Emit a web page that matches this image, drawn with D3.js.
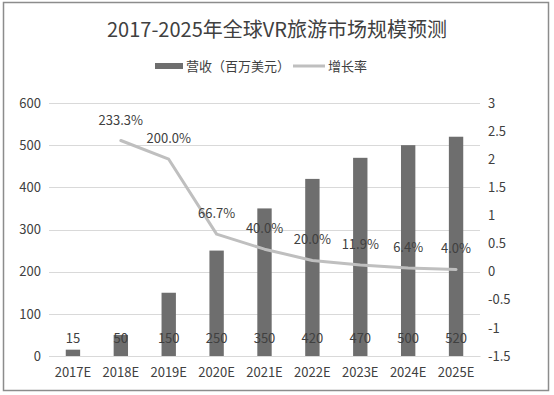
<!DOCTYPE html>
<html><head><meta charset="utf-8">
<script src="https://cdn.jsdelivr.net/npm/d3@7"></script>
<style>body{margin:0;background:#fff}svg{display:block}text{font-family:"Noto Sans CJK SC","Noto Sans",sans-serif;}</style>
</head><body><svg id="c" width="554" height="395"></svg>
<script>
const categories = ["2017E","2018E","2019E","2020E","2021E","2022E","2023E","2024E","2025E"];
const revenue = [15,50,150,250,350,420,470,500,520];
const growth = [null,2.333,2.0,0.667,0.4,0.2,0.119,0.064,0.04];
const growthLabels = [null,"233.3%","200.0%","66.7%","40.0%","20.0%","11.9%","6.4%","4.0%"];
const leftTicks = [0,100,200,300,400,500,600];
const rightTicks = [-1.5,-1,-0.5,0,0.5,1,1.5,2,2.5,3];
const title = "2017-2025年全球VR旅游市场规模预测";
const legendNames = ["营收（百万美元）","增长率"];

const svg = d3.select("#c");
const txt = "#404040";
svg.append("rect").attr("x",3.5).attr("y",2.5).attr("width",545).attr("height",388)
  .attr("fill","#fff").attr("stroke","#8c8c8c").attr("stroke-width",1.5);

const x = d3.scaleBand().domain(categories).range([49,480]).paddingInner(0).paddingOuter(0);
const yL = d3.scaleLinear().domain([0,600]).range([356,103]);
const yR = d3.scaleLinear().domain([-1.5,3]).range([356,103]);
const cx = c => x(c)+x.bandwidth()/2;

// grid
svg.append("g").selectAll("line").data(leftTicks).join("line")
  .attr("x1",49).attr("x2",480).attr("y1",d=>Math.round(yL(d))+0.5).attr("y2",d=>Math.round(yL(d))+0.5)
  .attr("stroke","#d9d9d9").attr("stroke-width",1);

// left axis
const gl = svg.append("g").attr("transform","translate(41,0)")
  .call(d3.axisLeft(yL).tickValues(leftTicks).tickSize(0).tickPadding(0));
gl.select(".domain").remove();
gl.selectAll("text").attr("fill",txt).style("font-size","13px");

// right axis
const gr = svg.append("g").attr("transform","translate(488,0)")
  .call(d3.axisRight(yR).tickValues(rightTicks).tickSize(0).tickPadding(0).tickFormat(d=>String(d)));
gr.select(".domain").remove();
gr.selectAll("text").attr("fill",txt).style("font-size","13px");

// bottom axis
const gb = svg.append("g").attr("transform","translate(0,356)")
  .call(d3.axisBottom(x).tickSize(0).tickPadding(12));
gb.select(".domain").attr("stroke","#d9d9d9");
gb.selectAll("text").attr("fill",txt).style("font-size","13px");

// bars
const bw = x.bandwidth()*0.3;
svg.append("g").selectAll("rect").data(revenue).join("rect")
  .attr("x",(d,i)=>cx(categories[i])-bw/2)
  .attr("width",bw)
  .attr("y",d=>yL(d)).attr("height",d=>yL(0)-yL(d))
  .attr("fill","#6e6e6e");

// line
const gData = growth.map((g,i)=>({c:categories[i],g,l:growthLabels[i]})).filter(d=>d.g!=null);
svg.append("path").attr("d",d3.line().x(d=>cx(d.c)).y(d=>yR(d.g))(gData)).attr("fill","none")
  .attr("stroke","#bfbfbf").attr("stroke-width",3).attr("stroke-linejoin","round").attr("stroke-linecap","round");

// bar labels
svg.append("g").selectAll("text").data(revenue).join("text")
  .attr("x",(d,i)=>cx(categories[i])).attr("y",yL(0)-13)
  .attr("text-anchor","middle").attr("fill",txt).style("font-size","13px")
  .text(d=>d);

// line labels
svg.append("g").selectAll("text").data(gData).join("text")
  .attr("x",d=>cx(d.c)).attr("y",d=>yR(d.g)-16)
  .attr("text-anchor","middle").attr("fill",txt).style("font-size","13px")
  .text(d=>d.l);

// title
svg.append("text").attr("x",277).attr("y",37).attr("text-anchor","middle")
  .attr("fill",txt).style("font-size","20px").text(title);

// legend
svg.append("rect").attr("x",155).attr("y",63).attr("width",28).attr("height",6).attr("fill","#6e6e6e");
svg.append("text").attr("x",186).attr("y",71).attr("fill",txt).style("font-size","13px").text(legendNames[0]);
svg.append("line").attr("x1",293).attr("x2",325).attr("y1",66).attr("y2",66).attr("stroke","#bfbfbf").attr("stroke-width",3);
svg.append("text").attr("x",328).attr("y",71).attr("fill",txt).style("font-size","13px").text(legendNames[1]);
</script></body></html>
